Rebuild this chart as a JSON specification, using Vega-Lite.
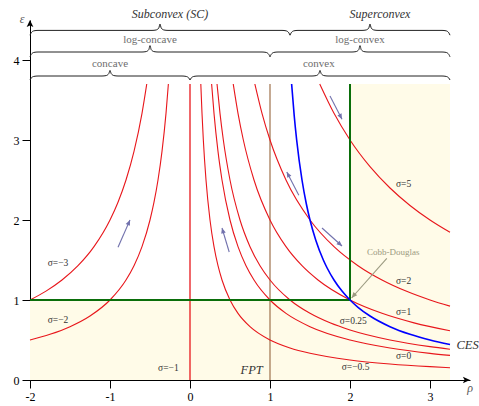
{
  "$schema": "https://vega.github.io/schema/vega-lite/v6.json",
  "width": 440,
  "height": 360,
  "autosize": "none",
  "padding": {"left": 30, "top": 20, "right": 9, "bottom": 26},
  "background": "white",
  "config": {"view": {"stroke": null}, "font": "Liberation Serif, DejaVu Serif, serif"},
  "datasets": {
    "shade": [
      {"r": -2, "r2": 3.25, "e": 0, "e2": 1},
      {"r": 2, "r2": 3.25, "e": 1, "e2": 3.7}
    ],
    "vlines": [
      {"k": "s-1", "r": 0, "e": 0, "e2": 3.7},
      {"k": "FPT", "r": 1, "e": 0, "e2": 3.7}
    ],
    "green": [
      {"r": -2, "e": 1, "r2": 2, "e2": 1},
      {"r": 2, "e": 1, "r2": 2, "e2": 3.7}
    ],
    "curves": [
      {"c": "-3", "r": -2, "e": 1}, {"c": "-3", "r": -1.8, "e": 1.1111}, {"c": "-3", "r": -1.6, "e": 1.25}, {"c": "-3", "r": -1.4, "e": 1.4286}, {"c": "-3", "r": -1.2, "e": 1.6667}, {"c": "-3", "r": -1.0, "e": 2}, {"c": "-3", "r": -0.9, "e": 2.2222}, {"c": "-3", "r": -0.8, "e": 2.5}, {"c": "-3", "r": -0.7, "e": 2.8571}, {"c": "-3", "r": -0.6, "e": 3.3333}, {"c": "-3", "r": -0.5405, "e": 3.7},
      {"c": "-2", "r": -2, "e": 0.5}, {"c": "-2", "r": -1.75, "e": 0.5714}, {"c": "-2", "r": -1.5, "e": 0.6667}, {"c": "-2", "r": -1.25, "e": 0.8}, {"c": "-2", "r": -1, "e": 1}, {"c": "-2", "r": -0.8, "e": 1.25}, {"c": "-2", "r": -0.7, "e": 1.4286}, {"c": "-2", "r": -0.6, "e": 1.6667}, {"c": "-2", "r": -0.5, "e": 2}, {"c": "-2", "r": -0.45, "e": 2.2222}, {"c": "-2", "r": -0.4, "e": 2.5}, {"c": "-2", "r": -0.35, "e": 2.8571}, {"c": "-2", "r": -0.3, "e": 3.3333}, {"c": "-2", "r": -0.2703, "e": 3.7},
      {"c": "-0.5", "r": 0.1351, "e": 3.7}, {"c": "-0.5", "r": 0.15, "e": 3.3333}, {"c": "-0.5", "r": 0.1667, "e": 3}, {"c": "-0.5", "r": 0.2, "e": 2.5}, {"c": "-0.5", "r": 0.25, "e": 2}, {"c": "-0.5", "r": 0.3, "e": 1.6667}, {"c": "-0.5", "r": 0.35, "e": 1.4286}, {"c": "-0.5", "r": 0.4, "e": 1.25}, {"c": "-0.5", "r": 0.5, "e": 1}, {"c": "-0.5", "r": 0.6, "e": 0.8333}, {"c": "-0.5", "r": 0.75, "e": 0.6667}, {"c": "-0.5", "r": 1, "e": 0.5}, {"c": "-0.5", "r": 1.25, "e": 0.4}, {"c": "-0.5", "r": 1.5, "e": 0.3333}, {"c": "-0.5", "r": 2, "e": 0.25}, {"c": "-0.5", "r": 2.5, "e": 0.2}, {"c": "-0.5", "r": 3, "e": 0.1667}, {"c": "-0.5", "r": 3.25, "e": 0.1538},
      {"c": "0", "r": 0.2703, "e": 3.7}, {"c": "0", "r": 0.3, "e": 3.3333}, {"c": "0", "r": 0.35, "e": 2.8571}, {"c": "0", "r": 0.4, "e": 2.5}, {"c": "0", "r": 0.5, "e": 2}, {"c": "0", "r": 0.6, "e": 1.6667}, {"c": "0", "r": 0.7, "e": 1.4286}, {"c": "0", "r": 0.8, "e": 1.25}, {"c": "0", "r": 1, "e": 1}, {"c": "0", "r": 1.2, "e": 0.8333}, {"c": "0", "r": 1.5, "e": 0.6667}, {"c": "0", "r": 2, "e": 0.5}, {"c": "0", "r": 2.5, "e": 0.4}, {"c": "0", "r": 3, "e": 0.3333}, {"c": "0", "r": 3.25, "e": 0.3077},
      {"c": "0.25", "r": 0.3378, "e": 3.7}, {"c": "0.25", "r": 0.375, "e": 3.3333}, {"c": "0.25", "r": 0.4167, "e": 3}, {"c": "0.25", "r": 0.5, "e": 2.5}, {"c": "0.25", "r": 0.625, "e": 2}, {"c": "0.25", "r": 0.75, "e": 1.6667}, {"c": "0.25", "r": 0.875, "e": 1.4286}, {"c": "0.25", "r": 1, "e": 1.25}, {"c": "0.25", "r": 1.25, "e": 1}, {"c": "0.25", "r": 1.5, "e": 0.8333}, {"c": "0.25", "r": 1.75, "e": 0.7143}, {"c": "0.25", "r": 2, "e": 0.625}, {"c": "0.25", "r": 2.5, "e": 0.5}, {"c": "0.25", "r": 3, "e": 0.4167}, {"c": "0.25", "r": 3.25, "e": 0.3846},
      {"c": "1", "r": 0.5405, "e": 3.7}, {"c": "1", "r": 0.6, "e": 3.3333}, {"c": "1", "r": 0.6667, "e": 3}, {"c": "1", "r": 0.8, "e": 2.5}, {"c": "1", "r": 1, "e": 2}, {"c": "1", "r": 1.2, "e": 1.6667}, {"c": "1", "r": 1.4, "e": 1.4286}, {"c": "1", "r": 1.6, "e": 1.25}, {"c": "1", "r": 2, "e": 1}, {"c": "1", "r": 2.4, "e": 0.8333}, {"c": "1", "r": 2.8, "e": 0.7143}, {"c": "1", "r": 3.25, "e": 0.6154},
      {"c": "2", "r": 0.8108, "e": 3.7}, {"c": "2", "r": 0.9, "e": 3.3333}, {"c": "2", "r": 1, "e": 3}, {"c": "2", "r": 1.2, "e": 2.5}, {"c": "2", "r": 1.5, "e": 2}, {"c": "2", "r": 1.8, "e": 1.6667}, {"c": "2", "r": 2.1, "e": 1.4286}, {"c": "2", "r": 2.4, "e": 1.25}, {"c": "2", "r": 2.7, "e": 1.1111}, {"c": "2", "r": 3, "e": 1}, {"c": "2", "r": 3.25, "e": 0.9231},
      {"c": "5", "r": 1.6216, "e": 3.7}, {"c": "5", "r": 1.8, "e": 3.3333}, {"c": "5", "r": 2, "e": 3}, {"c": "5", "r": 2.25, "e": 2.6667}, {"c": "5", "r": 2.5, "e": 2.4}, {"c": "5", "r": 2.75, "e": 2.1818}, {"c": "5", "r": 3, "e": 2}, {"c": "5", "r": 3.25, "e": 1.8462}
    ],
    "ces": [
      {"r": 1.2703, "e": 3.7}, {"r": 1.303, "e": 3.3}, {"r": 1.3333, "e": 3}, {"r": 1.4, "e": 2.5}, {"r": 1.4545, "e": 2.2}, {"r": 1.5, "e": 2}, {"r": 1.5714, "e": 1.75}, {"r": 1.6667, "e": 1.5}, {"r": 1.7143, "e": 1.4}, {"r": 1.8, "e": 1.25}, {"r": 1.9, "e": 1.1111}, {"r": 2, "e": 1}, {"r": 2.1, "e": 0.9091}, {"r": 2.25, "e": 0.8}, {"r": 2.5, "e": 0.6667}, {"r": 2.75, "e": 0.5714}, {"r": 3, "e": 0.5}, {"r": 3.25, "e": 0.4444}
    ],
    "arrows": [
      {"r": -0.9, "e": 1.66, "r2": -0.75, "e2": 2.0, "a": 24},
      {"r": 0.49, "e": 1.6, "r2": 0.4, "e2": 1.9, "a": 344},
      {"r": 1.36, "e": 2.31, "r2": 1.21, "e2": 2.6, "a": 332},
      {"r": 1.65, "e": 1.9, "r2": 1.9, "e2": 1.675, "a": 132},
      {"r": 1.75, "e": 3.55, "r2": 1.9, "e2": 3.26, "a": 152}
    ],
    "cd": [
      {"r": 2.46, "e": 1.52, "r2": 2.02, "e2": 1.025, "a": 221}
    ],
    "axisheads": [
      {"r": 3.5, "e": 0, "a": 90},
      {"r": -2, "e": 4.5, "a": 0}
    ],
    "braces": [
      {"b": "A1", "r": -2, "e": 4.31}, {"b": "A1", "r": -1.985, "e": 4.34}, {"b": "A1", "r": -1.95, "e": 4.365}, {"b": "A1", "r": -1.9, "e": 4.37}, {"b": "A1", "r": -0.475, "e": 4.37}, {"b": "A1", "r": -0.425, "e": 4.375}, {"b": "A1", "r": -0.39, "e": 4.4}, {"b": "A1", "r": -0.375, "e": 4.45}, {"b": "A1", "r": -0.36, "e": 4.4}, {"b": "A1", "r": -0.325, "e": 4.375}, {"b": "A1", "r": -0.275, "e": 4.37}, {"b": "A1", "r": 1.15, "e": 4.37}, {"b": "A1", "r": 1.2, "e": 4.365}, {"b": "A1", "r": 1.235, "e": 4.34}, {"b": "A1", "r": 1.25, "e": 4.31},
      {"b": "A2", "r": 1.25, "e": 4.31}, {"b": "A2", "r": 1.265, "e": 4.34}, {"b": "A2", "r": 1.3, "e": 4.365}, {"b": "A2", "r": 1.35, "e": 4.37}, {"b": "A2", "r": 2.15, "e": 4.37}, {"b": "A2", "r": 2.2, "e": 4.375}, {"b": "A2", "r": 2.235, "e": 4.4}, {"b": "A2", "r": 2.25, "e": 4.45}, {"b": "A2", "r": 2.265, "e": 4.4}, {"b": "A2", "r": 2.3, "e": 4.375}, {"b": "A2", "r": 2.35, "e": 4.37}, {"b": "A2", "r": 3.15, "e": 4.37}, {"b": "A2", "r": 3.2, "e": 4.365}, {"b": "A2", "r": 3.235, "e": 4.34}, {"b": "A2", "r": 3.25, "e": 4.31},
      {"b": "B1", "r": -2, "e": 4.04}, {"b": "B1", "r": -1.985, "e": 4.07}, {"b": "B1", "r": -1.95, "e": 4.095}, {"b": "B1", "r": -1.9, "e": 4.1}, {"b": "B1", "r": -0.6, "e": 4.1}, {"b": "B1", "r": -0.55, "e": 4.105}, {"b": "B1", "r": -0.515, "e": 4.13}, {"b": "B1", "r": -0.5, "e": 4.18}, {"b": "B1", "r": -0.485, "e": 4.13}, {"b": "B1", "r": -0.45, "e": 4.105}, {"b": "B1", "r": -0.4, "e": 4.1}, {"b": "B1", "r": 0.9, "e": 4.1}, {"b": "B1", "r": 0.95, "e": 4.095}, {"b": "B1", "r": 0.985, "e": 4.07}, {"b": "B1", "r": 1, "e": 4.04},
      {"b": "B2", "r": 1, "e": 4.04}, {"b": "B2", "r": 1.015, "e": 4.07}, {"b": "B2", "r": 1.05, "e": 4.095}, {"b": "B2", "r": 1.1, "e": 4.1}, {"b": "B2", "r": 2.025, "e": 4.1}, {"b": "B2", "r": 2.075, "e": 4.105}, {"b": "B2", "r": 2.11, "e": 4.13}, {"b": "B2", "r": 2.125, "e": 4.18}, {"b": "B2", "r": 2.14, "e": 4.13}, {"b": "B2", "r": 2.175, "e": 4.105}, {"b": "B2", "r": 2.225, "e": 4.1}, {"b": "B2", "r": 3.15, "e": 4.1}, {"b": "B2", "r": 3.2, "e": 4.095}, {"b": "B2", "r": 3.235, "e": 4.07}, {"b": "B2", "r": 3.25, "e": 4.04},
      {"b": "C1", "r": -2, "e": 3.75}, {"b": "C1", "r": -1.985, "e": 3.775}, {"b": "C1", "r": -1.95, "e": 3.795}, {"b": "C1", "r": -1.9, "e": 3.8}, {"b": "C1", "r": -1.1, "e": 3.8}, {"b": "C1", "r": -1.05, "e": 3.805}, {"b": "C1", "r": -1.015, "e": 3.83}, {"b": "C1", "r": -1, "e": 3.87}, {"b": "C1", "r": -0.985, "e": 3.83}, {"b": "C1", "r": -0.95, "e": 3.805}, {"b": "C1", "r": -0.9, "e": 3.8}, {"b": "C1", "r": -0.1, "e": 3.8}, {"b": "C1", "r": -0.05, "e": 3.795}, {"b": "C1", "r": -0.015, "e": 3.775}, {"b": "C1", "r": 0, "e": 3.75},
      {"b": "C2", "r": 0, "e": 3.75}, {"b": "C2", "r": 0.015, "e": 3.775}, {"b": "C2", "r": 0.05, "e": 3.795}, {"b": "C2", "r": 0.1, "e": 3.8}, {"b": "C2", "r": 1.525, "e": 3.8}, {"b": "C2", "r": 1.575, "e": 3.805}, {"b": "C2", "r": 1.61, "e": 3.83}, {"b": "C2", "r": 1.625, "e": 3.87}, {"b": "C2", "r": 1.64, "e": 3.83}, {"b": "C2", "r": 1.675, "e": 3.805}, {"b": "C2", "r": 1.725, "e": 3.8}, {"b": "C2", "r": 3.15, "e": 3.8}, {"b": "C2", "r": 3.2, "e": 3.795}, {"b": "C2", "r": 3.235, "e": 3.775}, {"b": "C2", "r": 3.25, "e": 3.75}
    ],
    "titles": [
      {"t": "Subconvex (SC)", "r": -0.25, "e": 4.58},
      {"t": "Superconvex", "r": 2.375, "e": 4.58}
    ],
    "regions": [
      {"t": "log-concave", "r": -0.5, "e": 4.25},
      {"t": "log-convex", "r": 2.125, "e": 4.25},
      {"t": "concave", "r": -1, "e": 3.95},
      {"t": "convex", "r": 1.61, "e": 3.95}
    ],
    "sigmas": [
      {"t": "σ=−3", "r": -1.65, "e": 1.46},
      {"t": "σ=−2", "r": -1.65, "e": 0.75},
      {"t": "σ=−1", "r": -0.27, "e": 0.15},
      {"t": "σ=−0.5", "r": 2.07, "e": 0.16},
      {"t": "σ=0", "r": 2.67, "e": 0.3},
      {"t": "σ=0.25", "r": 2.04, "e": 0.74},
      {"t": "σ=1", "r": 2.67, "e": 0.85},
      {"t": "σ=2", "r": 2.67, "e": 1.24},
      {"t": "σ=5", "r": 2.67, "e": 2.45}
    ],
    "ital": [
      {"t": "FPT", "r": 0.77, "e": 0.13},
      {"t": "CES", "r": 3.47, "e": 0.44}
    ]
  },
  "layer": [
    {
      "data": {"name": "shade"},
      "mark": {"type": "rect", "color": "#fffbe8"},
      "encoding": {
        "x": {"field": "r", "type": "quantitative", "title": null,
              "scale": {"domain": [-2, 3.5], "nice": false, "zero": false},
              "axis": {"values": [-2, -1, 0, 1, 2, 3], "grid": false, "domainColor": "black", "domainWidth": 1, "tickColor": "black", "tickSize": 8, "labelColor": "black", "labelFont": "Liberation Serif, DejaVu Serif, serif", "labelFontSize": 12, "labelPadding": 3, "labelFlush": false, "labelExpr": "'' + datum.value"}},
        "x2": {"field": "r2"},
        "y": {"field": "e", "type": "quantitative", "title": null,
              "scale": {"domain": [0, 4.5], "nice": false, "zero": false},
              "axis": {"values": [0, 1, 2, 3, 4], "grid": false, "domainColor": "black", "domainWidth": 1, "tickColor": "black", "tickSize": 8, "labelColor": "black", "labelFont": "Liberation Serif, DejaVu Serif, serif", "labelFontSize": 12, "labelPadding": 3, "labelFlush": false, "labelExpr": "'' + datum.value"}},
        "y2": {"field": "e2"}
      }
    },
    {
      "data": {"name": "vlines"},
      "mark": {"type": "rule", "strokeWidth": 1.3},
      "encoding": {
        "x": {"field": "r", "type": "quantitative", "title": null},
        "y": {"field": "e", "type": "quantitative", "title": null},
        "y2": {"field": "e2"},
        "color": {"field": "k", "type": "nominal", "scale": {"domain": ["s-1", "FPT"], "range": ["#e8161b", "#a67c58"]}, "legend": null}
      }
    },
    {
      "data": {"name": "curves"},
      "mark": {"type": "line", "color": "#e8161b", "strokeWidth": 1.1, "interpolate": "monotone"},
      "encoding": {
        "x": {"field": "r", "type": "quantitative", "title": null},
        "y": {"field": "e", "type": "quantitative", "title": null},
        "detail": {"field": "c", "type": "nominal"}
      }
    },
    {
      "data": {"name": "green"},
      "mark": {"type": "rule", "color": "#0a6e0a", "strokeWidth": 2},
      "encoding": {
        "x": {"field": "r", "type": "quantitative", "title": null},
        "y": {"field": "e", "type": "quantitative", "title": null},
        "x2": {"field": "r2"},
        "y2": {"field": "e2"}
      }
    },
    {
      "data": {"name": "ces"},
      "mark": {"type": "line", "color": "#0000ff", "strokeWidth": 1.6, "interpolate": "monotone"},
      "encoding": {
        "x": {"field": "r", "type": "quantitative", "title": null},
        "y": {"field": "e", "type": "quantitative", "title": null}
      }
    },
    {
      "data": {"name": "arrows"},
      "mark": {"type": "rule", "color": "#7272ad", "strokeWidth": 1.1},
      "encoding": {
        "x": {"field": "r", "type": "quantitative", "title": null},
        "y": {"field": "e", "type": "quantitative", "title": null},
        "x2": {"field": "r2"},
        "y2": {"field": "e2"}
      }
    },
    {
      "data": {"name": "arrows"},
      "mark": {"type": "point", "shape": "M0,0L-0.7,1.6L0.7,1.6Z", "filled": true, "color": "#7272ad", "size": 45, "opacity": 1},
      "encoding": {
        "x": {"field": "r2", "type": "quantitative", "title": null},
        "y": {"field": "e2", "type": "quantitative", "title": null},
        "angle": {"field": "a", "type": "quantitative", "scale": null}
      }
    },
    {
      "data": {"name": "cd"},
      "mark": {"type": "rule", "color": "#9b9a80", "strokeWidth": 1.1},
      "encoding": {
        "x": {"field": "r", "type": "quantitative", "title": null},
        "y": {"field": "e", "type": "quantitative", "title": null},
        "x2": {"field": "r2"},
        "y2": {"field": "e2"}
      }
    },
    {
      "data": {"name": "cd"},
      "mark": {"type": "point", "shape": "M0,0L-0.7,1.6L0.7,1.6Z", "filled": true, "color": "#9b9a80", "size": 50, "opacity": 1},
      "encoding": {
        "x": {"field": "r2", "type": "quantitative", "title": null},
        "y": {"field": "e2", "type": "quantitative", "title": null},
        "angle": {"field": "a", "type": "quantitative", "scale": null}
      }
    },
    {
      "data": {"name": "axisheads"},
      "mark": {"type": "point", "shape": "M0,0L-0.8,1.7L0,1.3L0.8,1.7Z", "filled": true, "color": "black", "size": 70, "opacity": 1},
      "encoding": {
        "x": {"field": "r", "type": "quantitative", "title": null},
        "y": {"field": "e", "type": "quantitative", "title": null},
        "angle": {"field": "a", "type": "quantitative", "scale": null}
      }
    },
    {
      "data": {"name": "braces"},
      "mark": {"type": "line", "color": "#222222", "strokeWidth": 1, "interpolate": "monotone"},
      "encoding": {
        "x": {"field": "r", "type": "quantitative", "title": null},
        "y": {"field": "e", "type": "quantitative", "title": null},
        "detail": {"field": "b", "type": "nominal"}
      }
    },
    {
      "data": {"name": "titles"},
      "mark": {"type": "text", "font": "Liberation Serif, DejaVu Serif, serif", "fontStyle": "italic", "fontSize": 12, "color": "#333333"},
      "encoding": {
        "x": {"field": "r", "type": "quantitative", "title": null},
        "y": {"field": "e", "type": "quantitative", "title": null},
        "text": {"field": "t"}
      }
    },
    {
      "data": {"name": "regions"},
      "mark": {"type": "text", "font": "Liberation Serif, DejaVu Serif, serif", "fontSize": 11, "color": "#6e6e6e"},
      "encoding": {
        "x": {"field": "r", "type": "quantitative", "title": null},
        "y": {"field": "e", "type": "quantitative", "title": null},
        "text": {"field": "t"}
      }
    },
    {
      "data": {"name": "sigmas"},
      "mark": {"type": "text", "font": "Liberation Serif, DejaVu Serif, serif", "fontSize": 9.5, "color": "#333333"},
      "encoding": {
        "x": {"field": "r", "type": "quantitative", "title": null},
        "y": {"field": "e", "type": "quantitative", "title": null},
        "text": {"field": "t"}
      }
    },
    {
      "data": {"name": "ital"},
      "mark": {"type": "text", "font": "Liberation Serif, DejaVu Serif, serif", "fontStyle": "italic", "fontSize": 12.5, "color": "#333333"},
      "encoding": {
        "x": {"field": "r", "type": "quantitative", "title": null},
        "y": {"field": "e", "type": "quantitative", "title": null},
        "text": {"field": "t"}
      }
    },
    {
      "data": {"values": [{"t": "Cobb-Douglas", "r": 2.54, "e": 1.6}]},
      "mark": {"type": "text", "font": "Liberation Serif, DejaVu Serif, serif", "fontSize": 9, "color": "#9b9a80"},
      "encoding": {
        "x": {"field": "r", "type": "quantitative", "title": null},
        "y": {"field": "e", "type": "quantitative", "title": null},
        "text": {"field": "t"}
      }
    },
    {
      "data": {"values": [{"t": "ε", "r": -2.1, "e": 4.51}, {"t": "ρ", "r": 3.5, "e": -0.1}]},
      "mark": {"type": "text", "font": "Liberation Serif, DejaVu Serif, serif", "fontStyle": "italic", "fontSize": 12, "color": "#555555"},
      "encoding": {
        "x": {"field": "r", "type": "quantitative", "title": null},
        "y": {"field": "e", "type": "quantitative", "title": null},
        "text": {"field": "t"}
      }
    }
  ]
}
